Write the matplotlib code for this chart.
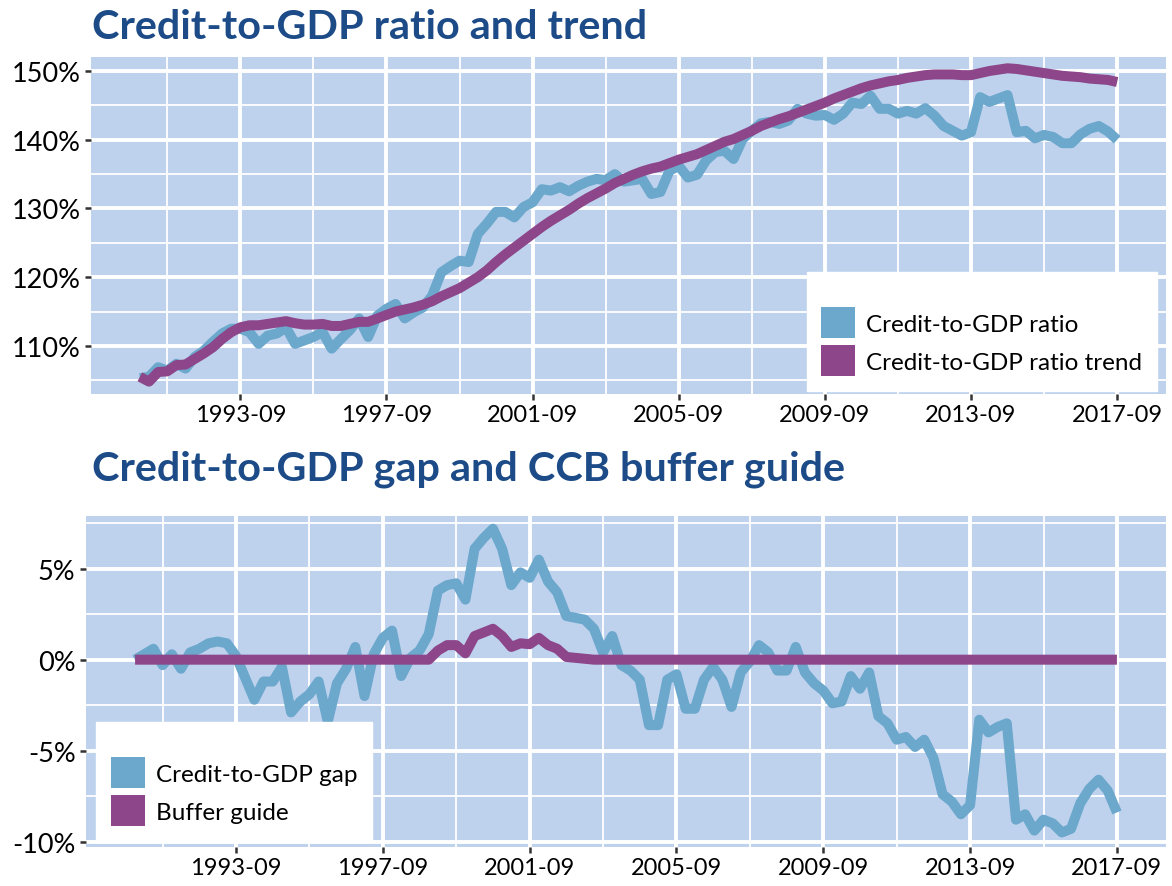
import numpy as np
import pandas as pd
import matplotlib
matplotlib.use("Agg")
import matplotlib.pyplot as plt
from matplotlib.patches import Patch
from matplotlib.ticker import FixedLocator, FuncFormatter

# ── Data (quarterly, 1990-12 .. 2017-09) ─────────────────────────────
quarters = pd.period_range("1990Q4", "2017Q3", freq="Q")

ratio = [
    105.3, 105.5, 106.9, 106.4, 107.4, 106.7, 108.4, 109.3, 110.6, 111.8,
    112.5, 112.5, 112.0, 110.3, 111.5, 111.8, 112.7, 110.3, 110.8, 111.3,
    112.0, 109.6, 111.0, 112.3, 114.0, 111.3, 114.4, 115.4, 116.1, 114.0,
    114.9, 115.6, 117.3, 120.7, 121.6, 122.4, 122.2, 126.3, 127.8, 129.5,
    129.5, 128.7, 130.2, 130.9, 132.8, 132.6, 133.1, 132.5, 133.3, 133.9,
    134.3, 134.1, 135.0, 133.9, 134.1, 134.3, 132.1, 132.4, 135.5, 136.2,
    134.5, 134.9, 137.0, 138.2, 138.4, 137.2, 140.1, 141.3, 142.4, 142.6,
    142.3, 142.8, 144.5, 143.8, 143.5, 143.6, 142.9, 143.8, 145.4, 145.2,
    146.4, 144.5, 144.5, 143.8, 144.2, 143.8, 144.6, 143.5, 142.0, 141.3,
    140.6, 141.1, 146.2, 145.5, 146.0, 146.5, 141.1, 141.3, 140.2, 140.7,
    140.4, 139.5, 139.5, 140.8, 141.6, 142.0, 141.2, 140.0,
]

trend = [
    105.5, 104.8, 106.2, 106.3, 107.2, 107.3, 108.1, 108.9, 109.8, 111.0,
    112.0, 112.7, 113.0, 113.0, 113.2, 113.4, 113.6, 113.3, 113.1, 113.1,
    113.2, 112.9, 112.9, 113.2, 113.5, 113.5, 114.0, 114.5, 115.0, 115.3,
    115.6, 116.0, 116.5, 117.2, 117.8, 118.4, 119.2, 120.0, 121.0, 122.2,
    123.3, 124.3, 125.3, 126.3, 127.3, 128.2, 129.0, 129.8, 130.7, 131.5,
    132.2, 132.9, 133.7, 134.3, 134.9, 135.4, 135.8, 136.1, 136.6, 137.1,
    137.5, 137.9, 138.5, 139.1, 139.7, 140.1, 140.7, 141.3, 142.0, 142.5,
    143.0, 143.4, 143.9, 144.4, 144.9, 145.4, 146.0, 146.5, 147.0, 147.5,
    147.9, 148.2, 148.5, 148.7, 149.0, 149.2, 149.4, 149.5, 149.5, 149.5,
    149.4, 149.4, 149.7, 150.0, 150.2, 150.4, 150.3, 150.1, 149.9, 149.7,
    149.5, 149.3, 149.2, 149.1, 148.9, 148.8, 148.7, 148.4,
]

gap = [
    0.0, 0.3, 0.6, -0.3, 0.3, -0.5, 0.4, 0.6, 0.9, 1.0,
    0.9, 0.2, -1.0, -2.2, -1.2, -1.2, -0.4, -2.9, -2.3, -1.9,
    -1.2, -3.4, -1.3, -0.5, 0.7, -2.0, 0.3, 1.2, 1.6, -0.9,
    0.1, 0.5, 1.4, 3.8, 4.1, 4.2, 3.3, 6.1, 6.7, 7.2,
    6.1, 4.1, 4.8, 4.5, 5.5, 4.3, 3.7, 2.4, 2.3, 2.2,
    1.7, 0.4, 1.3, -0.3, -0.6, -1.1, -3.6, -3.6, -1.1, -0.8,
    -2.7, -2.7, -1.1, -0.4, -1.1, -2.6, -0.7, -0.1, 0.8, 0.4,
    -0.6, -0.6, 0.7, -0.7, -1.3, -1.7, -2.4, -2.3, -0.9, -1.6,
    -0.7, -3.1, -3.5, -4.4, -4.25, -4.8, -4.4, -5.4, -7.4, -7.8,
    -8.5, -8.0, -3.3, -4.0, -3.7, -3.5, -8.8, -8.5, -9.4, -8.8,
    -9.0, -9.5, -9.3, -7.9, -7.1, -6.6, -7.2, -8.4,
]

buffer_guide = (
    [0.0] * 33
    + [0.5, 0.8, 0.8, 0.35, 1.3, 1.5, 1.7, 1.3, 0.7, 0.9,
       0.85, 1.2, 0.8, 0.6, 0.15, 0.1, 0.05]
    + [0.0] * 58
)

# ── Style ────────────────────────────────────────────────────────────
BLUE = "#6CA7CC"
PURPLE = "#8C4689"
PANEL = "#BED2EE"
TITLE = "#1C4B87"

plt.rcParams["font.family"] = ["Lato", "DejaVu Sans"]

W, H = 1172, 887
fig = plt.figure(figsize=(W / 100, H / 100), dpi=100)
fig.patch.set_facecolor("white")


def box(l, t, r, b):
    return [l / W, 1 - b / H, (r - l) / W, (b - t) / H]


ax1 = fig.add_axes(box(91, 58, 1166, 395))
ax2 = fig.add_axes(box(86, 517, 1166, 848))

x = np.arange(len(quarters))
major_x = [i for i, q in enumerate(quarters) if q.quarter == 3 and q.year % 4 == 1]
minor_x = [i - 8 for i in major_x]
xlabels = [f"{quarters[i].year}-{quarters[i].quarter * 3:02d}" for i in major_x]


def style(ax, ymaj, ymin, ylim):
    ax.set_facecolor(PANEL)
    for s in ax.spines.values():
        s.set_visible(False)
    ax.set_xlim(-5.35, 112.35)
    ax.set_ylim(*ylim)
    ax.xaxis.set_major_locator(FixedLocator(major_x))
    ax.xaxis.set_minor_locator(FixedLocator(minor_x))
    ax.set_xticklabels(xlabels)
    ax.yaxis.set_major_locator(FixedLocator(ymaj))
    ax.yaxis.set_minor_locator(FixedLocator(ymin))
    ax.yaxis.set_major_formatter(FuncFormatter(lambda v, p: f"{v:.0f}%"))
    ax.grid(which="major", color="white", lw=2.8)
    ax.grid(which="minor", color="white", lw=1.3)
    ax.set_axisbelow(True)
    ax.tick_params(which="major", length=4.5, width=1.8, color="#333333", pad=3)
    ax.tick_params(axis="x", which="major", labelsize=17)
    ax.tick_params(axis="y", which="major", labelsize=19.5)
    ax.tick_params(which="minor", length=0)


style(ax1, [110, 120, 130, 140, 150], [105, 115, 125, 135, 145], (103.0, 152.04))
style(ax2, [-10, -5, 0, 5], [-7.5, -2.5, 2.5, 7.5], (-10.3, 7.9))

# Top panel
ax1.plot(x, ratio, color=BLUE, lw=7.2, solid_capstyle="butt")
ax1.plot(x, trend, color=PURPLE, lw=7.2, solid_capstyle="butt")

# Bottom panel
ax2.plot(x, gap, color=BLUE, lw=7.2, solid_capstyle="butt")
ax2.plot(x, buffer_guide, color=PURPLE, lw=7.2, solid_capstyle="butt")

leg_kw = dict(bbox_transform=fig.transFigure, borderaxespad=0, frameon=True,
              fancybox=False, framealpha=1, edgecolor="white", fontsize=17.5,
              handlelength=1.4, handleheight=1.6, handletextpad=0.45,
              labelspacing=0.28, borderpad=0.6, title=" ", title_fontsize=11)

ax1.legend(handles=[Patch(facecolor=BLUE, label="Credit-to-GDP ratio"),
                    Patch(facecolor=PURPLE, label="Credit-to-GDP ratio trend")],
           loc="lower right", bbox_to_anchor=(1157 / W, 1 - 392 / H), **leg_kw)
ax2.legend(handles=[Patch(facecolor=BLUE, label="Credit-to-GDP gap"),
                    Patch(facecolor=PURPLE, label="Buffer guide")],
           loc="lower left", bbox_to_anchor=(96 / W, 1 - 842 / H), **leg_kw)

fig.text(92 / W, 1 - 39 / H, "Credit-to-GDP ratio and trend", fontsize=29.8,
         fontweight="bold", color=TITLE, va="baseline")
fig.text(92 / W, 1 - 481 / H, "Credit-to-GDP gap and CCB buffer guide",
         fontsize=29.8, fontweight="bold", color=TITLE, va="baseline")

fig.savefig("out.png", dpi=100, facecolor="white")
